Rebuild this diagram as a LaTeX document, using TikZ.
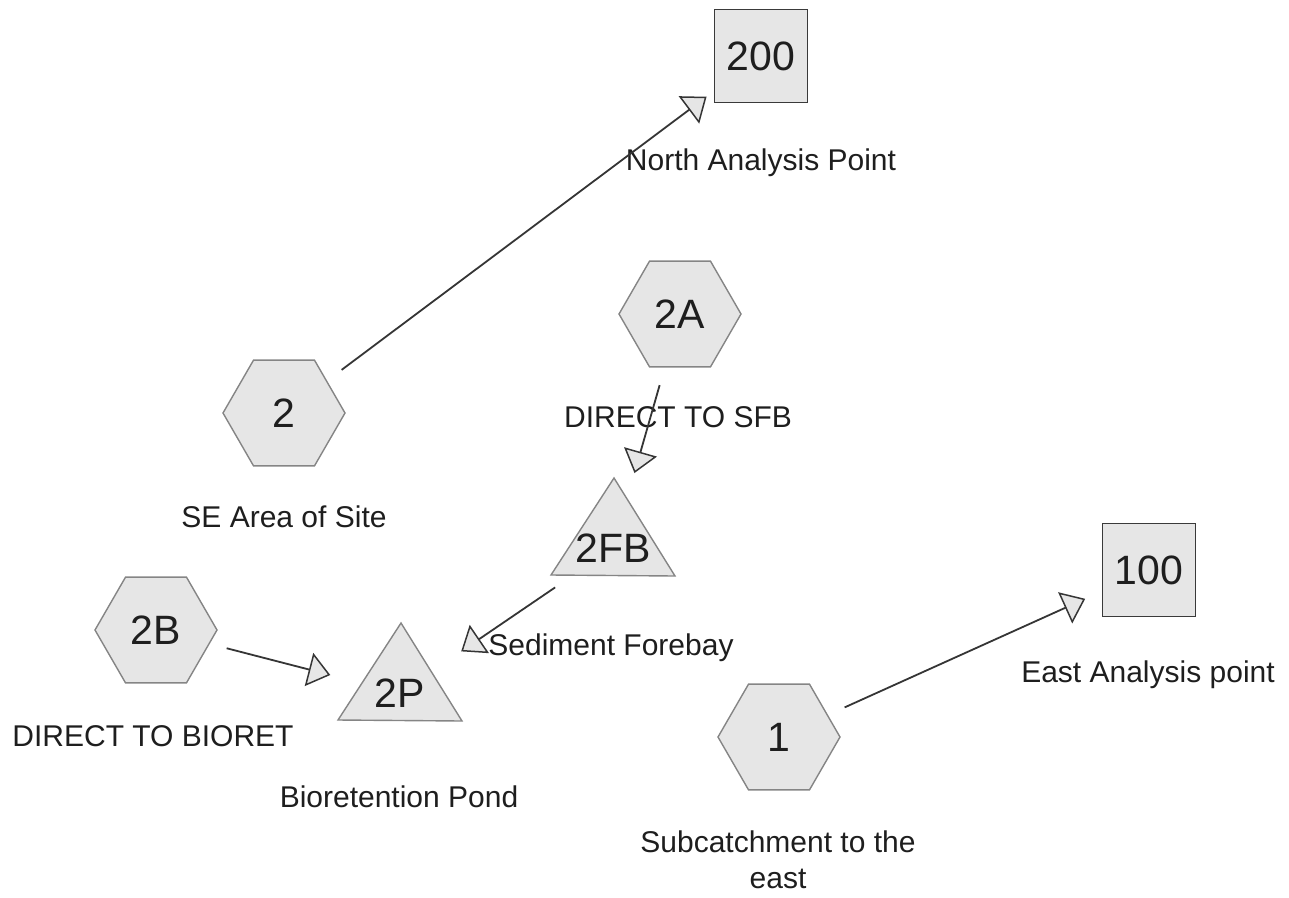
\documentclass[tikz,border=0pt]{standalone}
\usepackage{fontspec}
\setmainfont{Liberation Sans}
\usetikzlibrary{shapes.geometric,arrows.meta}

\definecolor{ink}{HTML}{1E1E1E}
\definecolor{shapefill}{HTML}{E6E6E6}
\definecolor{hexborder}{HTML}{858585}
\definecolor{boxborder}{HTML}{3A3A3A}

\newcommand{\idfont}{\fontsize{41}{48}\selectfont}
\newcommand{\lblfont}{\fontsize{30}{36}\selectfont}

\tikzset{
  subcat/.style={regular polygon, regular polygon sides=6, minimum size=122pt,
    inner sep=0pt, draw=hexborder, fill=shapefill, line width=1.4pt,
    font=\idfont, text=ink},
  reach/.style={rectangle, minimum size=93pt, inner sep=0pt, draw=boxborder,
    fill=shapefill, line width=1.5pt, font=\idfont, text=ink},
  pondid/.style={font=\idfont, text=ink, inner sep=0pt},
  pondshape/.style={draw=hexborder, fill=shapefill, line width=1.4pt, line join=miter},
  caption/.style={font=\lblfont, text=ink, anchor=base, inner sep=0pt},
  flow/.style={draw=ink!90, line width=1.8pt,
    -{Triangle[length=22pt, width=34pt, fill=shapefill, line width=1.5pt]}}
}

\begin{document}
\begin{tikzpicture}[x=1pt, y=-1pt]
  \useasboundingbox (0,0) rectangle (1289,897);

  % subcatchments
  \node[subcat] (s2)  at (284,413) {2};
  \node[subcat] (s2A) at (680,314) {2A};
  \node[subcat] (s2B) at (156,630) {2B};
  \node[subcat] (s1)  at (779,737) {1};

  % analysis points
  \node[reach] (r200) at (761,56)  {200};
  \node[reach] (r100) at (1149,570) {100};

  % ponds: triangle drawn around the pond id
  \foreach \nm/\px/\py/\id in {p2FB/613/548/2FB, p2P/400/693/2P} {
    \filldraw[pondshape] (\px,\py) ++(1,-70) -- ++(-63,97) -- ++(124,1) -- cycle;
    \node[pondid] (\nm) at (\px,\py) {\id};
  }

  % captions
  \node[caption] (c200) at (761,170) {North Analysis Point};
  \node[caption] (c2)   at (284,527) {SE Area of Site};
  \node[caption] (c2A)  at (678,427) {DIRECT TO SFB};
  \node[caption] (c2FB) at (611,655) {Sediment Forebay};
  \node[caption] (c2B)  at (153,746) {DIRECT TO BIORET};
  \node[caption] (c2P)  at (399,807) {Bioretention Pond};
  \node[caption] (c100) at (1148,682) {East Analysis point};
  \node[caption, align=center] (c1) at (778,888) {Subcatchment to the\\east};

  % routing
  \draw[flow, shorten <=72pt, shorten >=68pt] (s2.center) -- (r200.center);
  \draw[flow, shorten <=74pt, shorten >=78pt] (s2A.center) -- (p2FB.center);
  \draw[flow, shorten <=70pt, shorten >=74pt] (p2FB.center) -- (p2P.center);
  \draw[flow, shorten <=73pt, shorten >=72pt] (s2B.center) -- (p2P.center);
  \draw[flow, shorten <=72pt, shorten >=70pt] (s1.center) -- (r100.center);
\end{tikzpicture}
\end{document}
